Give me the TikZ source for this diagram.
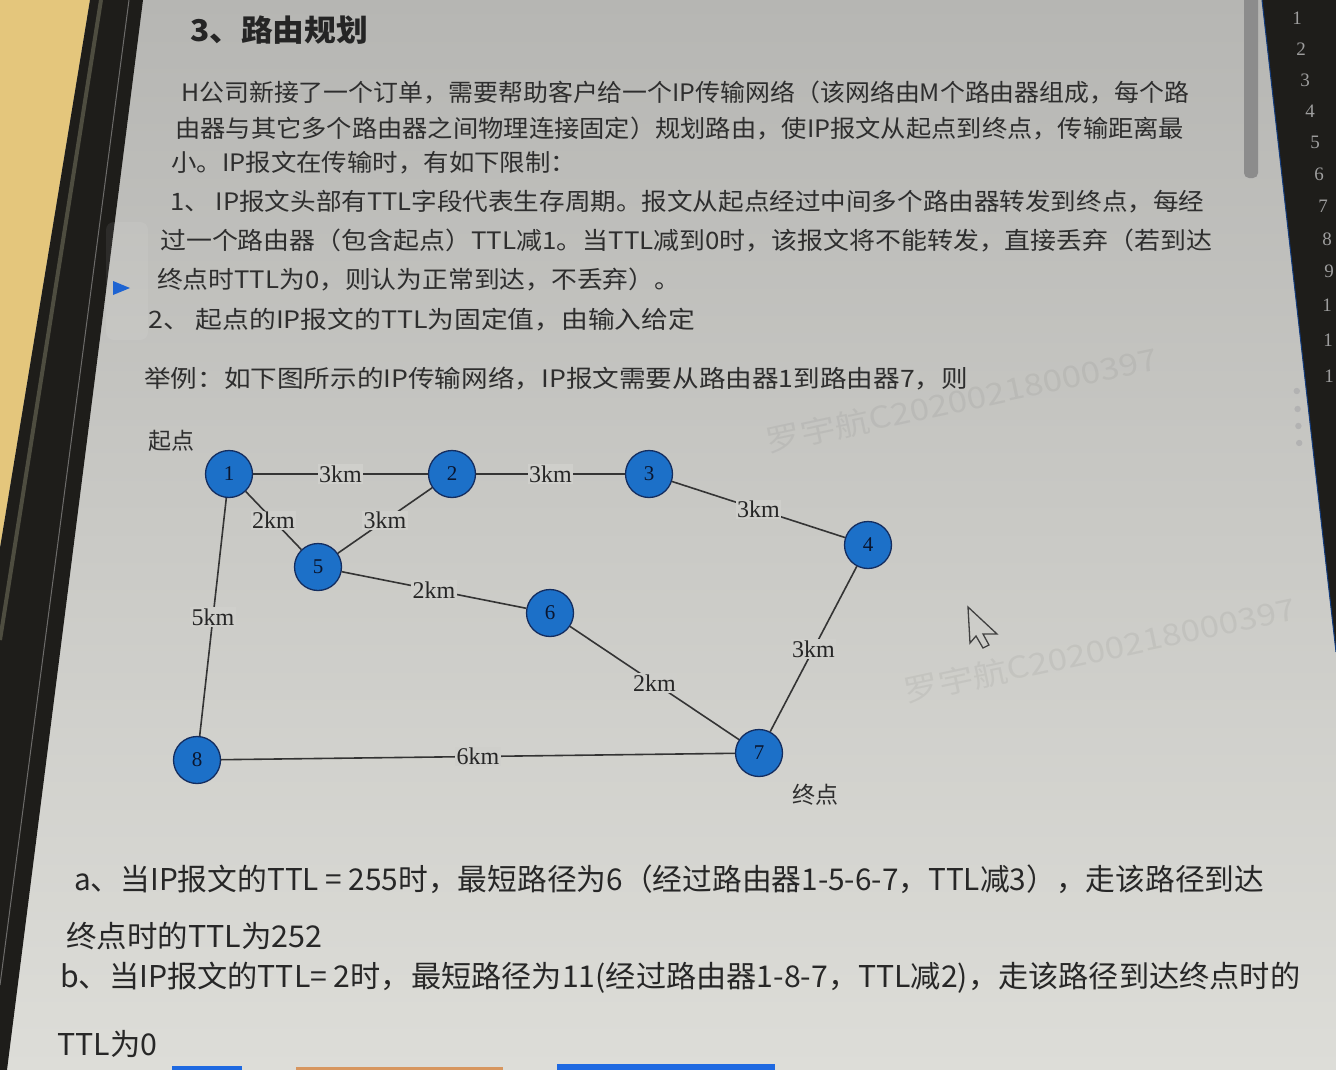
\documentclass[tikz,border=0pt]{standalone}
\usepackage{fontspec}
\usepackage{graphicx}
\newfontfamily\cjk{Noto Sans CJK SC}
\newfontfamily\numserif{Liberation Serif}

\definecolor{screentop}{RGB}{182,182,179}
\definecolor{screenmid}{RGB}{205,205,201}
\definecolor{screenbot}{RGB}{221,221,216}
\definecolor{labelbg}{RGB}{207,207,203}
\definecolor{tabletop}{RGB}{228,198,124}
\definecolor{bezel}{RGB}{30,29,26}
\definecolor{bezelrim}{RGB}{78,77,64}
\definecolor{routerblue}{RGB}{28,112,200}
\definecolor{routeredge}{RGB}{20,45,95}
\definecolor{ink}{RGB}{46,46,46}
\definecolor{linkgrey}{RGB}{52,52,52}
\definecolor{markblue}{RGB}{30,100,210}
\definecolor{tabblue}{RGB}{30,105,225}
\definecolor{taborange}{RGB}{215,150,95}

% stretch a line of text to a given width, keeping its height
\newcommand{\fitw}[2]{\resizebox{#1pt}{\height}{#2}}

\tikzset{
  body/.style={anchor=west, inner sep=0pt, text=ink, font=\cjk\fontsize{24}{28}\selectfont},
  answer/.style={anchor=west, inner sep=0pt, text=ink!85!black, font=\cjk\fontsize{30}{34}\selectfont},
  heading/.style={anchor=west, inner sep=0pt, text=ink!80!black, font=\cjk\bfseries\fontsize{30}{34}\selectfont},
  endpoint/.style={anchor=west, inner sep=0pt, text=ink, font=\cjk\fontsize{23}{26}\selectfont},
  router/.style={circle, minimum size=47pt, inner sep=0pt, fill=routerblue, draw=routeredge,
    line width=1.3pt, text=routeredge!50!black, font=\numserif\fontsize{21}{21}\selectfont},
  link/.style={draw=linkgrey, line width=1.6pt},
  elabel/.style={fill=labelbg, inner sep=1.5pt, text=black!85,
    font=\numserif\fontsize{24}{24}\selectfont},
  watermark/.style={inner sep=0pt, text=black, opacity=0.05, font=\cjk\fontsize{30}{30}\selectfont},
  linenum/.style={inner sep=0pt, text=white!62!black, font=\numserif\fontsize{19}{19}\selectfont},
}

\begin{document}
\begin{tikzpicture}[x=1pt, y=-1pt]
\useasboundingbox (0,0) rectangle (1336,1070);

% screen surface
\shade[top color=screentop, middle color=screenmid, bottom color=screenbot]
  (0,0) rectangle (1336,1070);

% table corner and the tablet bezel on the left
\fill[tabletop] (0,0) -- (90,0) -- (0,548) -- cycle;
\fill[bezel] (90,0) -- (143,0) -- (0,1125) -- (0,548) -- cycle;
\draw[bezelrim, line width=4pt] (101,0) -- (0,640);
\draw[white!35!bezel, line width=1pt] (129,0) -- (0,985);

% scrollbar and editor gutter on the right
\fill[white!55!black, rounded corners=5pt] (1244,-6) rectangle (1258,178);
\fill[bezel] (1262,0) -- (1336,0) -- (1336,652) -- cycle;
\draw[markblue!60!black, line width=1pt] (1262,0) -- (1336,652);
\foreach \n/\t/\x/\y in {1/1/1297/18, 2/2/1301/49, 3/3/1305/80, 4/4/1310/111, 5/5/1315/142,
                         6/6/1319/174, 7/7/1323/206, 8/8/1327/239, 9/9/1329/271,
                         10/1/1327/305, 11/1/1328/340, 12/1/1329/376}
  \node[linenum] (ln\n) at (\x,\y) {\t};
\foreach \k/\y in {1/391, 2/409, 3/426, 4/443}
  \fill[black!30] (1296+\k*0.8,\y) circle (3.2pt);

% collapse marker beside the list
\fill[white, opacity=0.07, rounded corners=8pt] (106,222) rectangle (148,340);
\fill[markblue] (113,281) -- (113,295) -- (130,288) -- cycle;

% faint watermarks
\node[watermark, rotate=12] (wm1) at (962,400) {\resizebox{400pt}{\height}{罗宇航C20200218000397}};
\node[watermark, rotate=12] (wm3) at (1100,650) {\resizebox{400pt}{\height}{罗宇航C20200218000397}};

% heading and problem statement
\node[heading] (title) at (190,30) {\fitw{178}{3、路由规划}};
\node[body] (p1) at (181,93) {\fitw{1008}{H公司新接了一个订单，需要帮助客户给一个IP传输网络（该网络由M个路由器组成，每个路}};
\node[body] (p2) at (175,129) {\fitw{1009}{由器与其它多个路由器之间物理连接固定）规划路由，使IP报文从起点到终点，传输距离最}};
\node[body] (p3) at (171,163) {\fitw{405}{小。IP报文在传输时，有如下限制：}};
\node[body] (p4) at (170,202) {\fitw{1034}{1、 IP报文头部有TTL字段代表生存周期。报文从起点经过中间多个路由器转发到终点，每经}};
\node[body] (p5) at (160,241) {\fitw{1052}{过一个路由器（包含起点）TTL减1。当TTL减到0时，该报文将不能转发，直接丢弃（若到达}};
\node[body] (p6) at (157,280) {\fitw{523}{终点时TTL为0，则认为正常到达，不丢弃）。}};
\node[body] (p7) at (148,320) {\fitw{547}{2、 起点的IP报文的TTL为固定值，由输入给定}};
\node[body] (p8) at (144,379) {\fitw{824}{举例：如下图所示的IP传输网络，IP报文需要从路由器1到路由器7，则}};

% routers
\node[router] (r1) at (229,474) {1};
\node[router] (r2) at (452,474) {2};
\node[router] (r3) at (649,474) {3};
\node[router] (r4) at (868,545) {4};
\node[router] (r5) at (318,567) {5};
\node[router] (r6) at (550,613) {6};
\node[router] (r7) at (759,753) {7};
\node[router] (r8) at (197,760) {8};

\node[endpoint] (start) at (148,441) {起点};
\node[endpoint] (finish) at (792,795) {终点};

% links with their lengths
\draw[link] (r1) -- node[elabel] {3km} (r2);
\draw[link] (r2) -- node[elabel] {3km} (r3);
\draw[link] (r3) -- node[elabel] {3km} (r4);
\draw[link] (r1) -- node[elabel] {2km} (r5);
\draw[link] (r2) -- node[elabel] {3km} (r5);
\draw[link] (r5) -- node[elabel] {2km} (r6);
\draw[link] (r6) -- node[elabel] {2km} (r7);
\draw[link] (r4) -- node[elabel] {3km} (r7);
\draw[link] (r1) -- node[elabel] {5km} (r8);
\draw[link] (r8) -- node[elabel] {6km} (r7);

% mouse pointer
\draw[black!75, line width=1.3pt, fill=screenmid, line join=miter]
  (968,607) -- (970,643) -- (976,636) -- (983,648) -- (989,645) -- (983,634) -- (997,634) -- cycle;

% worked answers
\node[answer] (a1) at (74,879) {\fitw{1190}{a、当IP报文的TTL = 255时，最短路径为6（经过路由器1-5-6-7，TTL减3），走该路径到达}};
\node[answer] (a2) at (66,936) {\fitw{256}{终点时的TTL为252}};
\node[answer] (a3) at (60,978) {\fitw{1240}{b、当IP报文的TTL= 2时，最短路径为11(经过路由器1-8-7，TTL减2)，走该路径到达终点时的}};
\node[answer] (a4) at (57,1044) {\fitw{100}{TTL为0}};

% tabs peeking in at the bottom edge
\fill[tabblue] (172,1066) rectangle (242,1070);
\fill[taborange] (296,1067) rectangle (503,1070);
\fill[tabblue] (557,1064) rectangle (775,1070);
\end{tikzpicture}
\end{document}
